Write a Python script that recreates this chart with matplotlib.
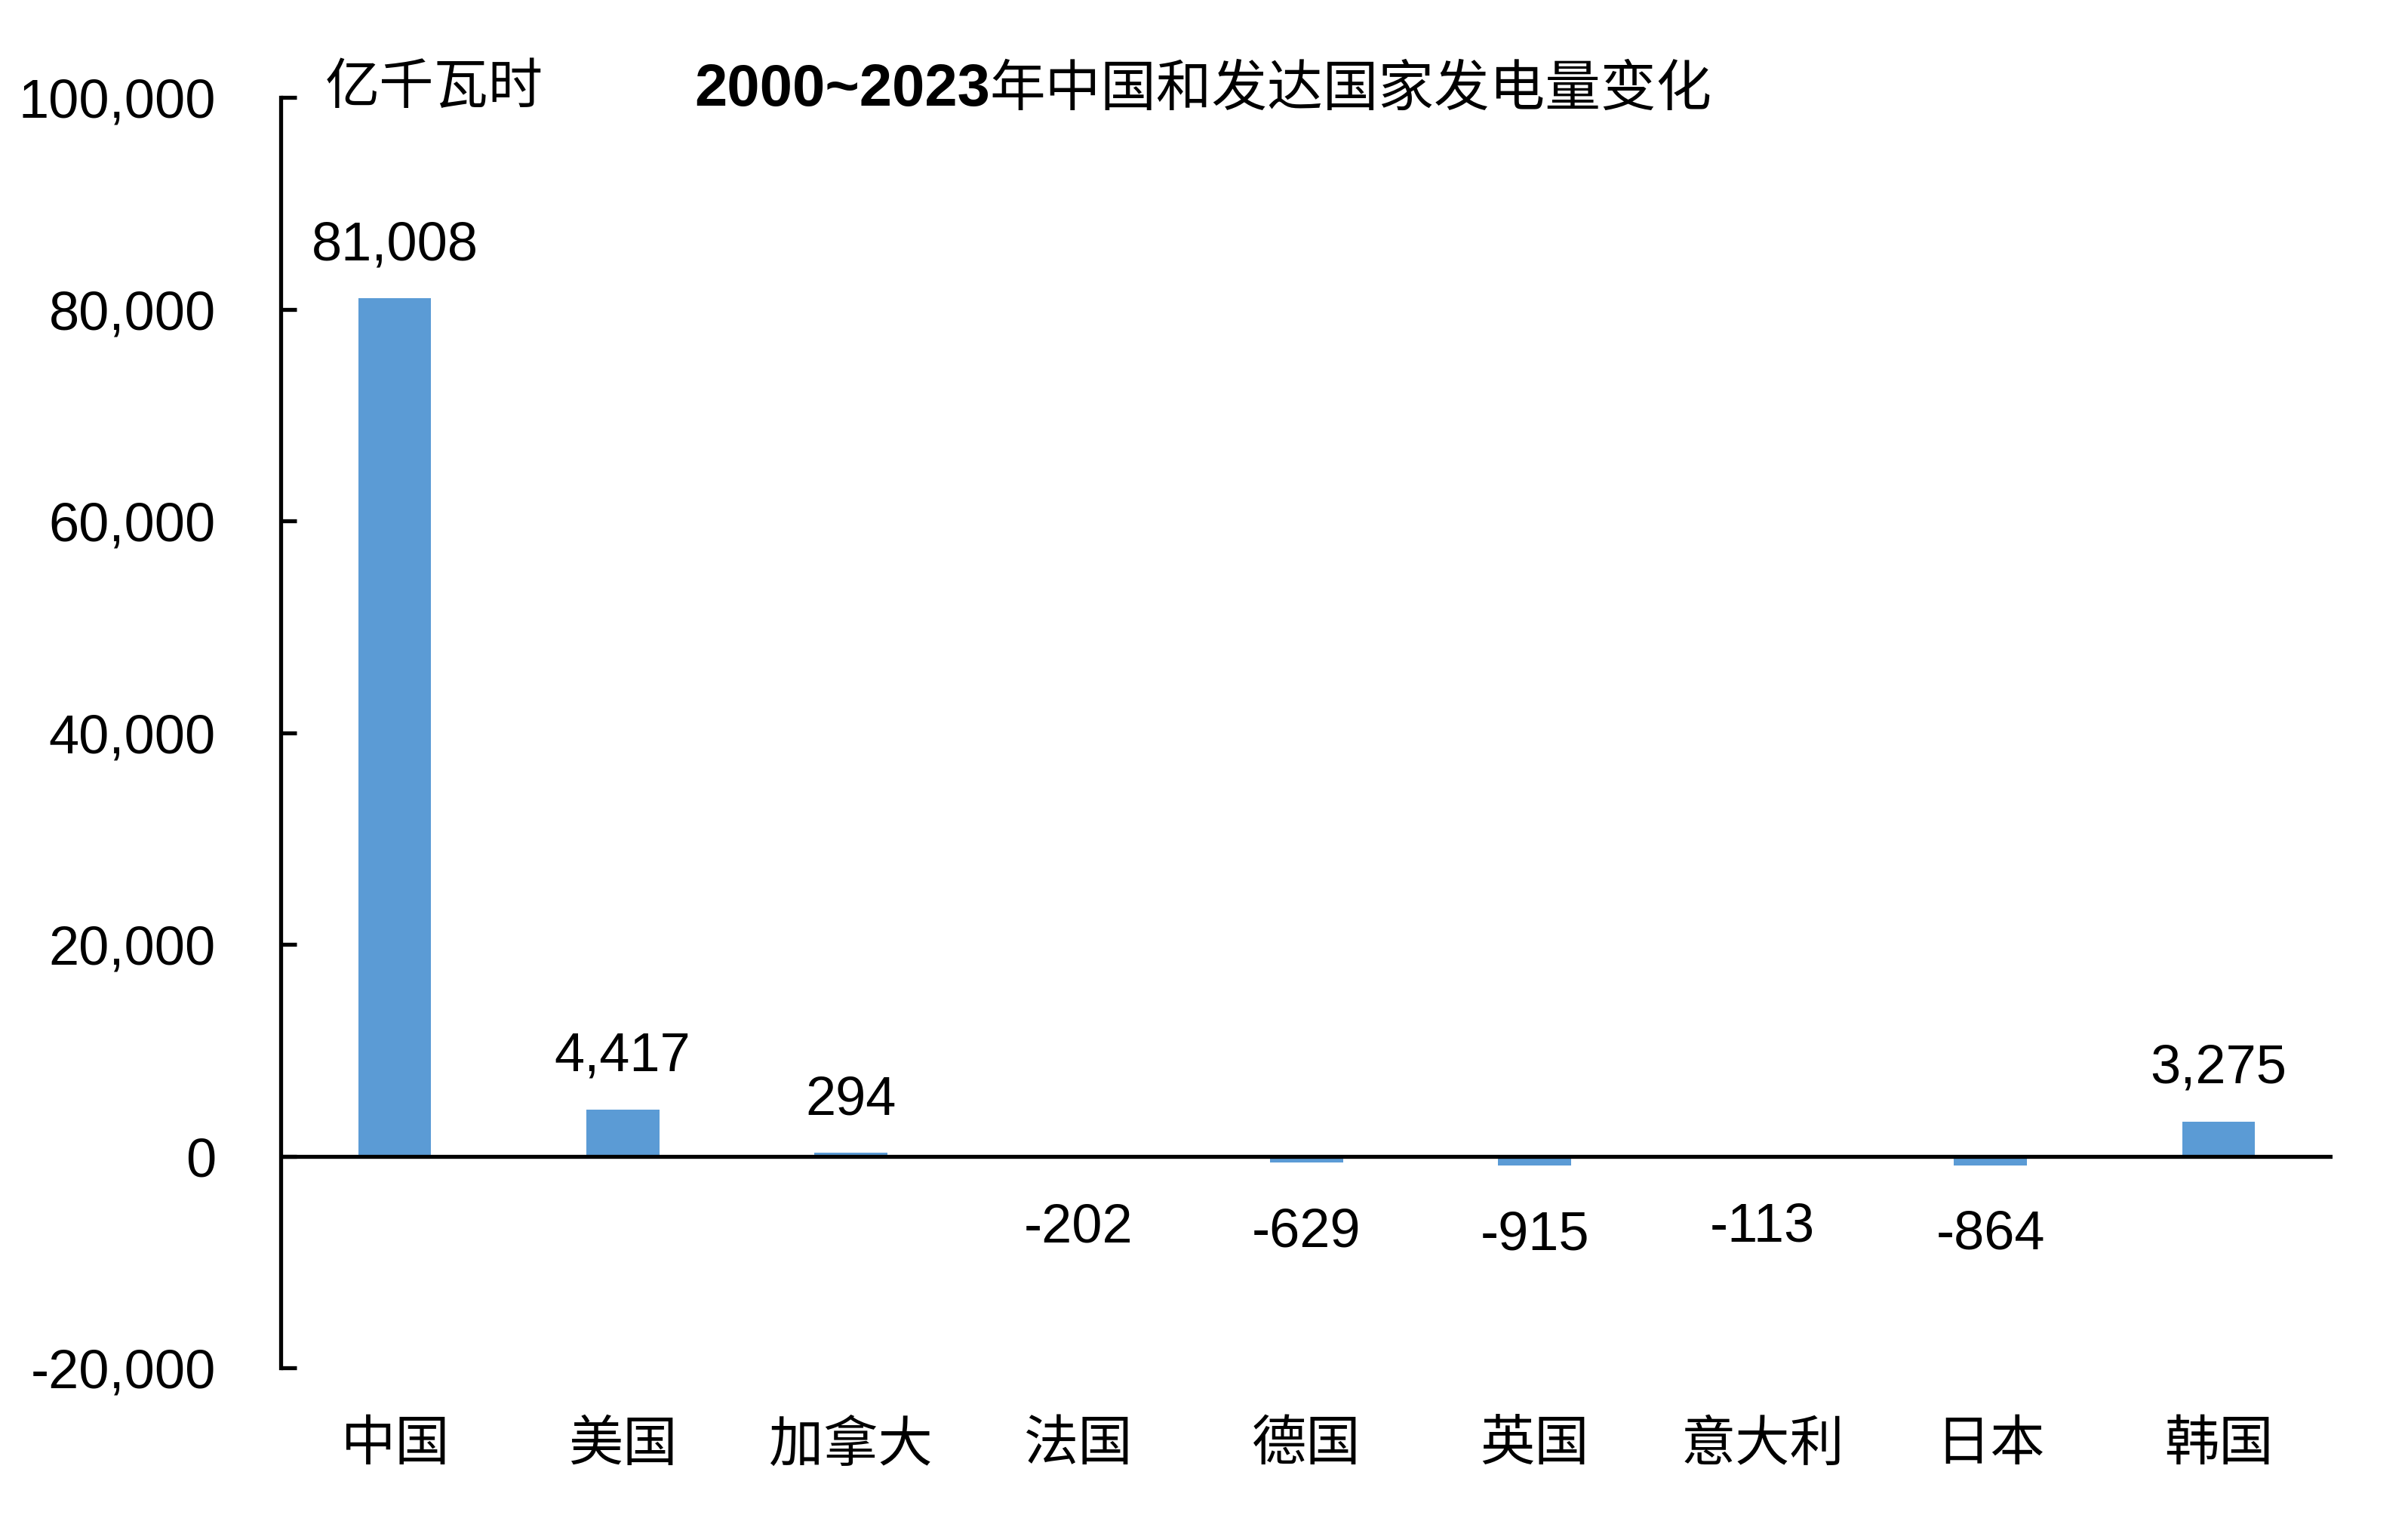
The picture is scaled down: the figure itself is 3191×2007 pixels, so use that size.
import matplotlib
matplotlib.use('Agg')
import matplotlib.pyplot as plt

plt.rcParams['font.family'] = ['Liberation Sans', 'Noto Sans CJK SC', 'DejaVu Sans']

categories = ['中国', '美国', '加拿大', '法国', '德国', '英国', '意大利', '日本', '韩国']
values = [81008, 4417, 294, -202, -629, -915, -113, -864, 3275]
yticks = [-20000, 0, 20000, 40000, 60000, 80000, 100000]
title_num = '2000~2023'
title_cn = '年中国和发达国家发电量变化'
unit = '亿千瓦时'

W, H = 3191, 2008
fig = plt.figure(figsize=(W / 200, H / 200), dpi=200)
ax = fig.add_axes([372 / W, 1 - 1813 / H, (3091 - 372) / W, (1813 - 130) / H])

x = list(range(len(categories)))
ax.bar(x, values, width=0.32, color='#5B9BD5', zorder=2)
ax.set_xlim(-0.5, len(categories) - 0.5)
ax.set_ylim(-20000, 100000)
ax.axhline(0, color='black', lw=1.9, zorder=3)

for s in ['top', 'right', 'bottom']:
    ax.spines[s].set_visible(False)
ax.spines['left'].set_linewidth(1.9)

ax.set_yticks(yticks)
ax.set_yticklabels([f'{v:,}' for v in yticks])
ax.tick_params(axis='y', direction='in', length=7.5, width=1.9, pad=31, labelsize=26)
ax.set_xticks(x)
ax.set_xticklabels(categories, fontsize=26)
ax.tick_params(axis='x', length=0, pad=25)

for i, v in enumerate(values):
    off = 25.5 if v >= 0 else -33
    ax.annotate(f'{v:,}', xy=(i, v), xytext=(0, off), textcoords='offset points',
                ha='center', va='center', fontsize=26)

fig.text(431 / W, 1 - 118 / H, unit, fontsize=26, va='center', ha='left')
t1 = fig.text(920 / W, 1 - 140 / H, title_num, fontsize=28, fontweight='bold',
              va='baseline', ha='left')
fig.canvas.draw()
bb = t1.get_window_extent()
fig.text(bb.x1 / fig.bbox.width, 1 - 140 / H, title_cn, fontsize=26.5,
         va='baseline', ha='left')

fig.savefig('out.png', dpi=200, facecolor='white')
